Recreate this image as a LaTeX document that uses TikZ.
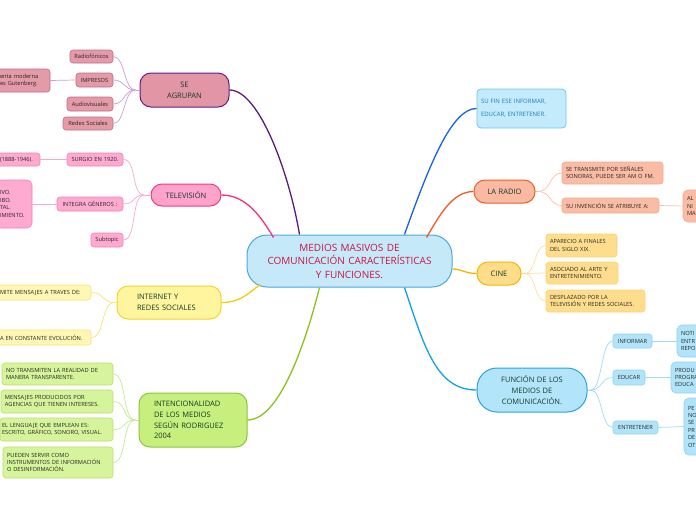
\documentclass[tikz,border=0pt]{standalone}
\usepackage{fontspec}
\setmainfont{Open Sans}
\usetikzlibrary{calc}
\definecolor{dtext}{HTML}{123A28}
\definecolor{stext}{HTML}{262626}
\definecolor{pL}{HTML}{5B1B75}\definecolor{pF}{HTML}{E295A5}\definecolor{pB}{HTML}{6A1B80}
\definecolor{pcF}{HTML}{E49AA8}\definecolor{pcB}{HTML}{C46A88}\definecolor{pcL}{HTML}{C8A0D8}
\definecolor{tL}{HTML}{F5307A}\definecolor{tF}{HTML}{FFA3CB}\definecolor{tB}{HTML}{F03A85}
\definecolor{tcF}{HTML}{FFAAD0}\definecolor{tcB}{HTML}{F080B0}\definecolor{tcL}{HTML}{F8A8CC}
\definecolor{yL}{HTML}{F0D000}\definecolor{yF}{HTML}{FFF59E}\definecolor{yB}{HTML}{F3D22A}
\definecolor{ycF}{HTML}{FFF7B3}\definecolor{ycB}{HTML}{F7E377}\definecolor{ycL}{HTML}{F5E27A}
\definecolor{gL}{HTML}{8CC21E}\definecolor{gF}{HTML}{C6EF7E}\definecolor{gB}{HTML}{8DC43A}
\definecolor{gcF}{HTML}{D6F49B}\definecolor{gcB}{HTML}{B8E066}\definecolor{gcL}{HTML}{C5E890}
\definecolor{bL}{HTML}{1464DC}\definecolor{bF}{HTML}{C3EBFB}\definecolor{bB}{HTML}{6FC6EE}\definecolor{bT}{HTML}{1F7BC4}
\definecolor{rL}{HTML}{F45A1E}\definecolor{rF}{HTML}{F9B9A2}\definecolor{rB}{HTML}{F25C28}
\definecolor{rcF}{HTML}{FBBCA6}\definecolor{rcB}{HTML}{F7A88E}\definecolor{rcL}{HTML}{F9C0AA}
\definecolor{cL}{HTML}{F6B400}\definecolor{cF}{HTML}{FEDD8A}\definecolor{cB}{HTML}{F5B400}
\definecolor{ccF}{HTML}{FEDD8C}\definecolor{ccB}{HTML}{FBD27A}\definecolor{ccL}{HTML}{FDE0A0}
\definecolor{fL}{HTML}{14A0E6}\definecolor{fF}{HTML}{B3E5FA}\definecolor{fB}{HTML}{2AA3DC}
\definecolor{fcF}{HTML}{B2E4F9}\definecolor{fcB}{HTML}{8DD2F2}\definecolor{fcL}{HTML}{9FDAF5}
\definecolor{mF}{HTML}{C6E9FA}\definecolor{mB}{HTML}{4AA8DC}\definecolor{mT}{HTML}{C8163F}
% \nbx[pad]{name}{style}{x1}{y1}{x2}{y2}{text}
\newcommand\nbx[8][4]{%
 \pgfmathsetmacro\bw{#6-#4}\pgfmathsetmacro\bh{#7-#5}\pgfmathsetmacro\tw{#6-#4-2*#1}%
 \node[#3, minimum width=\bw pt, minimum height=\bh pt, inner xsep=#1pt, inner ysep=0pt, text width=\tw pt] (#2) at ({(#4+#6)/2},{(#5+#7)/2}) {#8};}
\tikzset{
 small/.style={rounded corners=3pt, draw, line width=0.6pt, font=\fontsize{5.7}{7.4}\selectfont, text=stext},
 big/.style={rounded corners=11pt, draw, line width=1pt, font=\fontsize{7.5}{10.8}\selectfont, text=dtext},
 mainline/.style={line width=1.3pt},
 subline/.style={line width=0.7pt},
}
\begin{document}
\begin{tikzpicture}[x=1pt,y=-1pt]
\useasboundingbox (0,0) rectangle (696,520);
\clip (0,0) rectangle (696,520);
% central
\nbx[4]{c}{rounded corners=20pt, draw=mB, fill=mF, line width=1pt, font=\fontsize{10}{13.5}\selectfont, text=mT, align=center}{247}{235}{452}{287}{MEDIOS MASIVOS DE\\COMUNICACIÓN CARACTERÍSTICAS\\Y FUNCIONES.}
\coordinate (cP) at ($(c.north west)+(53,0)$);
\coordinate (cT) at ($(c.north west)+(27,3)$);
\coordinate (cI) at ($(c.south west)+(14,-3)$);
\coordinate (cG) at ($(c.south west)+(73,0)$);
\coordinate (cS) at ($(c.north west)+(158,0)$);
\coordinate (cR) at ($(c.north east)+(-26,3)$);
\coordinate (cC) at ($(c.east)+(0,8)$);
\coordinate (cF) at ($(c.south west)+(158,0)$);

% ===== SE AGRUPAN
\nbx{se}{big, fill=pF, draw=pB, align=center}{140}{73}{229}{107}{SE\\AGRUPAN}
\draw[mainline, pL] (se.east) .. controls +(30,0) and +(-10,-60) .. (cP);
\nbx{rad}{small, fill=pcF, draw=pcB, align=center}{70}{50}{113}{63}{Radiofónicos}
\nbx{imp}{small, fill=pcF, draw=pcB, align=center}{76}{73}{113}{87}{IMPRESOS}
\nbx{aud}{small, fill=pcF, draw=pcB, align=center}{67}{97}{113}{111}{Audiovisuales}
\nbx{red}{small, fill=pcF, draw=pcB, align=center}{63}{117}{113}{130}{Redes Sociales}
\nbx{her}{small, fill=pcF, draw=pcB, align=left}{-4}{69}{50}{92}{enta moderna\\es Gutenberg.}
\coordinate (seb) at ($(se.west)+(-4,0)$);
\draw[subline, pcL] (se.west) -- (seb);
\foreach \n in {rad,imp,aud,red}
  \draw[subline, pcL] (seb) .. controls +(-12,0) and +(12,0) .. (\n.east);
\draw[subline, pcL] (imp.west) -- (her.east);

% ===== TELEVISION
\nbx{tv}{big, fill=tF, draw=tB, align=center}{151}{184}{221}{206}{TELEVISIÓN}
\draw[mainline, tL] (tv.east) .. controls +(25,0) and +(-12,-20) .. (cT);
\nbx{sur}{small, fill=tcF, draw=tcB, align=center}{67}{153}{123}{166}{SURGIO EN 1920.}
\nbx{int}{small, fill=tcF, draw=tcB, align=center}{57}{197}{123}{211}{INTEGRA GÉNEROS :}
\nbx{sub}{small, fill=tcF, draw=tcB, align=center}{91}{233}{123}{247}{Subtopic}
\nbx{yr}{small, fill=tcF, draw=tcB, align=left}{-4}{153}{40}{166}{(1888-1946).}
\nbx{gen}{small, fill=tcF, draw=tcB, align=left, rounded corners=5pt}{-4}{180}{32}{228}{IVO.\\IBO.\\TAL.\\IMIENTO.}
\coordinate (tvb) at ($(tv.west)+(-6,0)$);
\draw[subline, tcL] (tv.west) -- (tvb);
\foreach \n in {sur,int,sub}
  \draw[subline, tcL] (tvb) .. controls +(-14,0) and +(14,0) .. (\n.east);
\draw[subline, tcL] (sur.west) -- (yr.east);
\draw[subline, tcL] (int.west) -- (gen.east);

% ===== INTERNET
\nbx[20]{inet}{big, fill=yF, draw=yB, align=left}{117}{286}{221}{319}{INTERNET Y\\REDES SOCIALES}
\draw[mainline, yL] (inet.east) .. controls +(20,0) and +(-12,8) .. (cI);
\nbx{trm}{small, fill=ycF, draw=ycB, align=left}{-4}{285}{91}{300}{MITE MENSAJES A TRAVES DE:}
\nbx{evo}{small, fill=ycF, draw=ycB, align=left}{-4}{330}{91}{345}{A EN CONSTANTE EVOLUCIÓN.}
\coordinate (inb) at ($(inet.west)+(-2,0)$);
\draw[subline, ycL] (inet.west) -- (inb);
\foreach \n in {trm,evo}
  \draw[subline, ycL] (inb) .. controls +(-14,0) and +(14,0) .. (\n.east);

% ===== INTENCIONALIDAD
\nbx[15]{ten}{big, fill=gF, draw=gB, align=left}{139}{393}{247}{447}{INTENCIONALIDAD\\DE LOS MEDIOS\\SEGÚN RODRIGUEZ\\2004}
\draw[mainline, gL] (ten.east) .. controls +(35,0) and +(-10,40) .. (cG);
\nbx{g1}{small, fill=gcF, draw=gcB, align=left}{2}{363}{113}{385}{NO TRANSMITEN LA REALIDAD DE\\MANERA TRANSPARENTE.}
\nbx{g2}{small, fill=gcF, draw=gcB, align=left}{1}{390}{113}{413}{MENSAJES PRODUCIDOS POR\\AGENCIAS QUE TIENEN INTERESES.}
\nbx[2]{g3}{small, fill=gcF, draw=gcB, align=left}{0}{418}{113}{441}{EL LENGUAJE QUE EMPLEAN ES:\\ESCRITO, GRÁFICO, SONORO, VISUAL.}
\nbx{g4}{small, fill=gcF, draw=gcB, align=left}{3}{447}{113}{478}{PUEDEN SERVIR COMO\\INSTRUMENTOS DE INFORMACIÓN\\O DESINFORMACIÓN.}
\coordinate (teb) at ($(ten.west)+(-3,0)$);
\draw[subline, gcL] (ten.west) -- (teb);
\foreach \n in {g1,g2,g3,g4}
  \draw[subline, gcL] (teb) .. controls +(-14,0) and +(14,0) .. (\n.east);

% ===== SU FIN
\nbx{fin}{rounded corners=4pt, draw=bB, fill=bF, line width=0.8pt, font=\fontsize{6}{13}\selectfont, text=bT, align=left}{477}{89}{566}{128}{SU FIN ESE INFORMAR,\\EDUCAR, ENTRETENER.}
\draw[mainline, bL] (cS) .. controls +(25,-70) and +(-25,0) .. (fin.west);

% ===== LA RADIO
\nbx{rd}{big, fill=rF, draw=rB, align=center}{474}{180}{535}{203}{LA RADIO}
\draw[mainline, rL] (cR) .. controls +(12,-20) and +(-22,0) .. (rd.west);
\nbx{r1}{small, fill=rcF, draw=rcB, align=left}{562}{162}{663}{184}{SE TRANSMITE POR SEÑALES\\SONORAS, PUEDE SER AM O FM.}
\nbx{r2}{small, fill=rcF, draw=rcB, align=left}{562}{198}{659}{213}{SU INVENCIÓN SE ATRIBUYE A:}
\nbx{r3}{small, fill=rcF, draw=rcB, align=left, rounded corners=5pt}{683}{190}{760}{222}{AL\\NI\\MA}
\coordinate (rdb) at ($(rd.east)+(3,0)$);
\draw[subline, rcL] (rd.east) -- (rdb);
\foreach \n in {r1,r2}
  \draw[subline, rcL] (rdb) .. controls +(12,0) and +(-12,0) .. (\n.west);
\draw[subline, rcL] (r2.east) -- (r3.west);

% ===== CINE
\nbx{ci}{big, fill=cF, draw=cB, align=center}{477}{262}{521}{285}{CINE}
\draw[mainline, cL] (cC) .. controls +(10,0) and +(-12,0) .. (ci.west);
\nbx{c1}{small, fill=ccF, draw=ccB, align=left}{546}{234}{617}{257}{APARECIO A FINALES\\DEL SIGLO XIX.}
\nbx{c2}{small, fill=ccF, draw=ccB, align=left}{546}{262}{618}{284}{ASOCIADO AL ARTE Y\\ENTRETENIMIENTO.}
\nbx{c3}{small, fill=ccF, draw=ccB, align=left}{546}{290}{645}{312}{DESPLAZADO POR LA\\TELEVISIÓN Y REDES SOCIALES.}
\coordinate (cib) at ($(ci.east)+(3,0)$);
\draw[subline, ccL] (ci.east) -- (cib);
\foreach \n in {c1,c2,c3}
  \draw[subline, ccL] (cib) .. controls +(12,0) and +(-12,0) .. (\n.west);

% ===== FUNCION
\nbx{fu}{big, fill=fF, draw=fB, rounded corners=20pt, align=center}{477}{368}{587}{412}{FUNCIÓN DE LOS\\MEDIOS DE\\COMUNICACIÓN.}
\draw[mainline, fL] (cF) .. controls +(20,60) and +(-40,0) .. (fu.west);
\nbx{f1}{small, fill=fcF, draw=fcB, align=center}{613}{334}{652}{348}{INFORMAR}
\nbx{f2}{small, fill=fcF, draw=fcB, align=center}{613}{370}{645}{385}{EDUCAR}
\nbx{f3}{small, fill=fcF, draw=fcB, align=center}{613}{421}{658}{434}{ENTRETENER}
\nbx{f1b}{small, fill=fcF, draw=fcB, align=left, rounded corners=5pt}{677}{325}{760}{357}{NOTI\\ENTR\\REPO}
\nbx{f2b}{small, fill=fcF, draw=fcB, align=left, rounded corners=5pt}{671}{362}{760}{393}{PRODU\\PROGRA\\EDUCA}
\nbx{f3b}{small, fill=fcF, draw=fcB, align=left, rounded corners=5pt}{684}{398}{760}{455}{PE\\NO\\SE\\PR\\DE\\OT}
\coordinate (fub) at ($(fu.east)+(3,0)$);
\draw[subline, fcL] (fu.east) -- (fub);
\foreach \n in {f1,f2,f3}
  \draw[subline, fcL] (fub) .. controls +(12,0) and +(-12,0) .. (\n.west);
\draw[subline, fcL] (f1.east) -- (f1b.west);
\draw[subline, fcL] (f2.east) -- (f2b.west);
\draw[subline, fcL] (f3.east) -- (f3b.west);
\end{tikzpicture}
\end{document}
